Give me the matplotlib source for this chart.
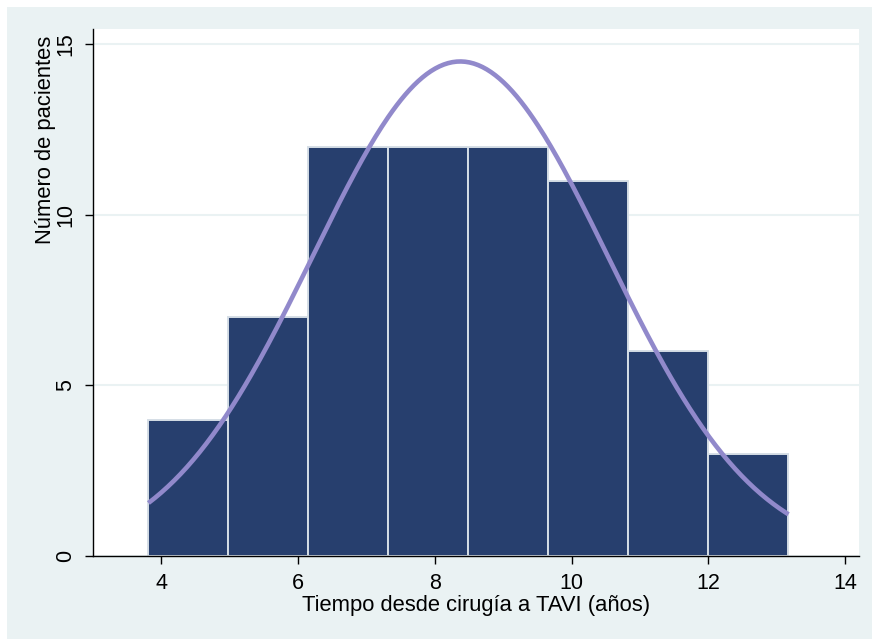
import numpy as np
import matplotlib
matplotlib.use("Agg")
import matplotlib.pyplot as plt
from matplotlib.patches import Rectangle

plt.rcParams['font.family'] = ['Liberation Sans', 'DejaVu Sans']

# histogram bins (years) and patient counts
bin_edges = [3.81, 4.98, 6.15, 7.32, 8.49, 9.66, 10.83, 12.00, 13.17]
counts = [4, 7, 12, 12, 12, 11, 6, 3]

# normal curve fitted to the data
mu = 8.37
sigma = 2.157
n_total = sum(counts)

x_ticks = [4, 6, 8, 10, 12, 14]
y_ticks = [0, 5, 10, 15]

fig = plt.figure(figsize=(8.72, 6.39), dpi=100)
fig.patch.set_facecolor('white')
# graph region background, with a thin white margin on the top and left
fig.patches.append(Rectangle((7 / 872, 0), 1, 1 - 7 / 639, transform=fig.transFigure,
                             facecolor='#EAF2F3', edgecolor='none', zorder=-10))

ax = fig.add_axes([0.1067, 0.13, 0.8783, 0.8246])
ax.set_facecolor('white')

widths = np.diff(bin_edges)
ax.bar(bin_edges[:-1], counts, width=widths, align='edge',
       color='#273F6E', edgecolor='#D5DEE6', linewidth=1.4, zorder=2)

w = widths.mean()
xs = np.linspace(bin_edges[0], bin_edges[-1], 300)
ys = n_total * w / (sigma * np.sqrt(2 * np.pi)) * np.exp(-0.5 * ((xs - mu) / sigma) ** 2)
ax.plot(xs, ys, color='#9189CB', linewidth=3.3, zorder=3, solid_capstyle='butt')

ax.set_xlim(3.0, 14.2)
ax.set_ylim(0, 15.45)
ax.set_xticks(x_ticks)
ax.set_yticks(y_ticks)
ax.yaxis.grid(True, color='#EAF2F3', linewidth=1.5, zorder=0)
ax.set_axisbelow(True)

for s in ['top', 'right']:
    ax.spines[s].set_visible(False)
for s in ['left', 'bottom']:
    ax.spines[s].set_color('black')
    ax.spines[s].set_linewidth(1.0)

ax.tick_params(axis='both', direction='out', length=6, width=1, labelsize=15.5, pad=6)
for lbl in ax.get_yticklabels():
    lbl.set_rotation(90)
    lbl.set_va('center')

ax.set_xlabel('Tiempo desde cirugía a TAVI (años)', fontsize=15.8, labelpad=1)
ax.set_ylabel('Número de pacientes', fontsize=15.8, va='center', ha='center')
ax.yaxis.set_label_coords(-0.0627, 0.789)

fig.savefig('out.png', dpi=100, facecolor=fig.get_facecolor())
